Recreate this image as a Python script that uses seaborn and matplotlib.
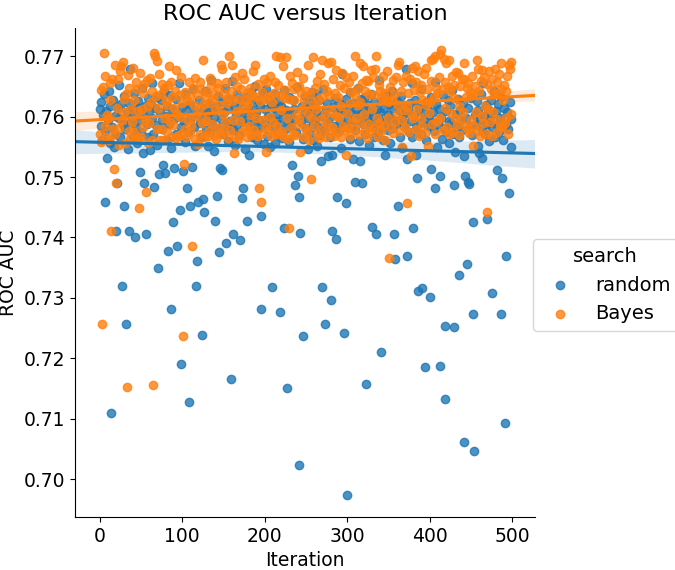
import numpy as np
import pandas as pd
import seaborn as sns
import matplotlib
matplotlib.use('Agg')
import matplotlib.pyplot as plt

# one ROC AUC per iteration for each search, in units of 1e-4
iteration = np.arange(500)

random_auc = [
    7612, 7585, 7624, 7561, 7603, 7638, 7458, 7577, 7609, 7531,
    7594, 7642, 7556, 7618, 7110, 7583, 7627, 7549, 7601, 7572,
    7411, 7490, 7615, 7598, 7652, 7567, 7621, 7319, 7588, 7452,
    7634, 7579, 7257, 7607, 7546, 7623, 7410, 7679, 7591, 7612,
    7568, 7605, 7639, 7400, 7583, 7557, 7626, 7593, 7614, 7509,
    7575, 7648, 7602, 7539, 7490, 7617, 7406, 7588, 7631, 7566,
    7609, 7544, 7621, 7597, 7655, 7572, 7483, 7615, 7586, 7632,
    7553, 7349, 7505, 7608, 7627, 7579, 7594, 7520, 7643, 7506,
    7601, 7562, 7618, 7378, 7587, 7636, 7548, 7282, 7612, 7425,
    7515, 7597, 7629, 7571, 7385, 7604, 7655, 7445, 7583, 7190,
    7616, 7510, 7592, 7637, 7558, 7611, 7482, 7574, 7128, 7621,
    7452, 7598, 7517, 7645, 7582, 7609, 7551, 7319, 7361, 7458,
    7627, 7589, 7603, 7566, 7239, 7463, 7442, 7614, 7642, 7578,
    7595, 7552, 7623, 7608, 7574, 7661, 7587, 7612, 7543, 7599,
    7428, 7618, 7468, 7581, 7634, 7376, 7515, 7596, 7512, 7625,
    7571, 7607, 7648, 7391, 7584, 7613, 7559, 7629, 7592, 7165,
    7659, 7405, 7578, 7617, 7553, 7603, 7637, 7586, 7611, 7569,
    7396, 7624, 7591, 7465, 7482, 7606, 7547, 7632, 7428, 7598,
    7615, 7537, 7582, 7641, 7604, 7566, 7623, 7589, 7651, 7574,
    7608, 7561, 7627, 7594, 7618, 7435, 7282, 7583, 7639, 7555,
    7612, 7587, 7646, 7568, 7601, 7629, 7549, 7596, 7621, 7318,
    7583, 7614, 7556, 7638, 7592, 7605, 7571, 7626, 7588, 7277,
    7617, 7564, 7602, 7644, 7415, 7579, 7611, 7150, 7593, 7632,
    7558, 7606, 7585, 7520, 7627, 7596, 7612, 7487, 7574, 7649,
    7502, 7467, 7024, 7408, 7591, 7618, 7563, 7236, 7605, 7634,
    7581, 7612, 7547, 7598, 7626, 7573, 7609, 7641, 7588, 7561,
    7619, 7594, 7637, 7552, 7606, 7583, 7628, 7569, 7527, 7318,
    7601, 7645, 7578, 7257, 7613, 7589, 7622, 7534, 7597, 7566,
    7297, 7537, 7410, 7616, 7585, 7631, 7398, 7603, 7467, 7574,
    7622, 7592, 7548, 7611, 7671, 7583, 7241, 7608, 7457, 7629,
    6974, 7596, 7617, 7563, 7641, 7585, 7604, 7530, 7622, 7492,
    7578, 7613, 7594, 7647, 7559, 7527, 7605, 7629, 7490, 7587,
    7616, 7571, 7632, 7158, 7598, 7619, 7553, 7607, 7584, 7638,
    7418, 7601, 7567, 7624, 7589, 7406, 7612, 7575, 7661, 7596,
    7608, 7210, 7583, 7627, 7562, 7614, 7537, 7591, 7636, 7578,
    7603, 7621, 7556, 7598, 7643, 7581, 7615, 7405, 7364, 7592,
    7626, 7452, 7589, 7611, 7567, 7634, 7597, 7548, 7619, 7585,
    7606, 7679, 7530, 7370, 7612, 7574, 7623, 7593, 7655, 7566,
    7416, 7602, 7628, 7581, 7537, 7498, 7311, 7614, 7589, 7645,
    7572, 7316, 7608, 7596, 7185, 7625, 7561, 7617, 7584, 7603,
    7301, 7632, 7514, 7591, 7608, 7576, 7482, 7658, 7621, 7550,
    7587, 7612, 7187, 7502, 7598, 7563, 7636, 7581, 7133, 7254,
    7609, 7574, 7627, 7592, 7556, 7618, 7589, 7644, 7571, 7487,
    7251, 7542, 7604, 7583, 7629, 7566, 7338, 7611, 7595, 7578,
    7622, 7061, 7535, 7502, 7597, 7356, 7492, 7615, 7488, 7584,
    7631, 7569, 7425, 7273, 7046, 7603, 7587, 7626, 7552, 7611,
    7539, 7594, 7637, 7532, 7578, 7656, 7601, 7571, 7619, 7588,
    7431, 7613, 7559, 7597, 7628, 7308, 7582, 7606, 7643, 7567,
    7609, 7512, 7586, 7621, 7574, 7598, 7274, 7633, 7498, 7561,
    7615, 7093, 7588, 7370, 7607, 7579, 7473, 7624, 7596, 7550,
]

bayes_auc = [
    7572, 7644, 7558, 7257, 7649, 7706, 7584, 7668, 7566, 7603,
    7598, 7561, 7655, 7627, 7411, 7663, 7579, 7514, 7686, 7571,
    7490, 7614, 7662, 7581, 7553, 7676, 7684, 7595, 7691, 7629,
    7608, 7557, 7637, 7152, 7669, 7576, 7648, 7563, 7612, 7591,
    7681, 7574, 7628, 7563, 7657, 7645, 7564, 7609, 7448, 7672,
    7566, 7613, 7639, 7582, 7654, 7595, 7475, 7661, 7557, 7618,
    7589, 7664, 7625, 7561, 7642, 7155, 7706, 7701, 7634, 7579,
    7692, 7615, 7671, 7562, 7638, 7579, 7654, 7561, 7647, 7598,
    7626, 7574, 7619, 7653, 7684, 7591, 7567, 7658, 7632, 7586,
    7614, 7643, 7565, 7677, 7604, 7568, 7636, 7599, 7572, 7666,
    7623, 7237, 7522, 7641, 7579, 7567, 7628, 7594, 7658, 7575,
    7632, 7586, 7385, 7648, 7619, 7563, 7664, 7601, 7637, 7554,
    7615, 7658, 7572, 7646, 7589, 7694, 7621, 7567, 7633, 7594,
    7641, 7568, 7622, 7576, 7664, 7652, 7587, 7629, 7569, 7637,
    7612, 7563, 7656, 7648, 7581, 7619, 7571, 7686, 7679, 7604,
    7576, 7638, 7591, 7657, 7622, 7565, 7631, 7701, 7578, 7643,
    7686, 7594, 7627, 7540, 7666, 7568, 7651, 7609, 7563, 7629,
    7592, 7645, 7574, 7673, 7618, 7662, 7581, 7627, 7566, 7639,
    7621, 7584, 7648, 7603, 7569, 7636, 7675, 7578, 7686, 7597,
    7632, 7568, 7654, 7482, 7626, 7571, 7458, 7641, 7595, 7663,
    7629, 7542, 7582, 7658, 7576, 7634, 7599, 7667, 7568, 7624,
    7591, 7639, 7572, 7657, 7701, 7584, 7653, 7571, 7636, 7698,
    7611, 7577, 7684, 7631, 7566, 7644, 7698, 7598, 7563, 7629,
    7415, 7668, 7582, 7656, 7571, 7627, 7645, 7569, 7603, 7674,
    7588, 7651, 7596, 7542, 7639, 7612, 7567, 7664, 7628, 7581,
    7643, 7574, 7686, 7605, 7562, 7637, 7497, 7598, 7699, 7621,
    7584, 7648, 7613, 7571, 7659, 7627, 7564, 7671, 7596, 7693,
    7632, 7579, 7654, 7605, 7567, 7643, 7589, 7689, 7636, 7575,
    7691, 7608, 7583, 7662, 7568, 7639, 7601, 7677, 7574, 7633,
    7599, 7652, 7617, 7566, 7673, 7584, 7648, 7578, 7537, 7665,
    7606, 7581, 7657, 7622, 7568, 7641, 7593, 7667, 7579, 7636,
    7701, 7598, 7645, 7619, 7572, 7688, 7624, 7589, 7656, 7683,
    7605, 7578, 7642, 7661, 7564, 7659, 7587, 7638, 7574, 7677,
    7612, 7665, 7581, 7636, 7679, 7701, 7598, 7567, 7652, 7589,
    7643, 7576, 7631, 7668, 7584, 7639, 7562, 7627, 7675, 7598,
    7624, 7366, 7649, 7582, 7628, 7661, 7573, 7637, 7591, 7666,
    7605, 7686, 7619, 7691, 7577, 7642, 7594, 7549, 7658, 7611,
    7582, 7667, 7457, 7616, 7639, 7575, 7662, 7535, 7603, 7681,
    7598, 7644, 7684, 7579, 7657, 7612, 7676, 7568, 7641, 7597,
    7653, 7584, 7628, 7671, 7573, 7619, 7681, 7645, 7552, 7606,
    7624, 7659, 7693, 7587, 7696, 7632, 7571, 7701, 7648, 7592,
    7639, 7665, 7703, 7597, 7710, 7646, 7578, 7696, 7614, 7657,
    7688, 7583, 7649, 7694, 7571, 7642, 7606, 7667, 7575, 7631,
    7653, 7598, 7674, 7586, 7672, 7617, 7569, 7651, 7596, 7663,
    7608, 7662, 7688, 7584, 7632, 7647, 7579, 7656, 7573, 7641,
    7595, 7668, 7552, 7639, 7584, 7651, 7607, 7693, 7678, 7576,
    7642, 7568, 7659, 7601, 7677, 7589, 7665, 7617, 7572, 7654,
    7442, 7613, 7676, 7591, 7645, 7568, 7662, 7608, 7637, 7679,
    7596, 7658, 7574, 7639, 7671, 7584, 7646, 7688, 7583, 7627,
    7652, 7589, 7643, 7598, 7667, 7571, 7686, 7679, 7604, 7691,
]

df = pd.DataFrame({
    'iteration': np.concatenate([iteration, iteration]),
    'score': np.array(random_auc + bayes_auc) / 10000,
    'search': ['random'] * len(random_auc) + ['Bayes'] * len(bayes_auc),
})

plt.rcParams['font.size'] = 13.5

g = sns.lmplot(x='iteration', y='score', hue='search', data=df,
               legend=False, truncate=False, seed=0,
               scatter_kws={'s': 36},
               facet_kws={'xlim': (-30, 528)})

fig = g.figure
fig.set_size_inches(6.75, 5.7)
fig.subplots_adjust(left=0.111, right=0.793, bottom=0.093, top=0.951)

ax = g.ax
ax.set_title('ROC AUC versus Iteration', fontsize=16)
ax.set_xlabel('Iteration')
ax.set_ylabel('ROC AUC')

handles, labels = ax.get_legend_handles_labels()
fig.legend(handles, labels, title='search', loc='center left',
           bbox_to_anchor=(0.775, 0.5), frameon=True,
           fontsize=14, title_fontsize=14)

fig.savefig('out.png', dpi=100)
